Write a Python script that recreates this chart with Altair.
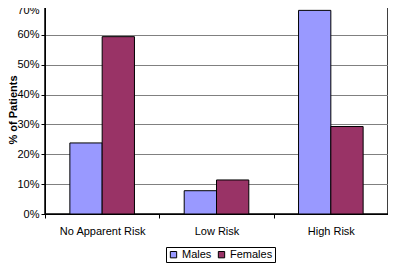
import altair as alt
import pandas as pd

categories = ["No Apparent Risk", "Low Risk", "High Risk"]
groups = ["Males", "Females"]
males = [0.238, 0.078, 0.682]
females = [0.594, 0.114, 0.293]

rows = []
for c, m, f in zip(categories, males, females):
    rows.append({"Risk": c, "Sex": "Males", "Pct": m})
    rows.append({"Risk": c, "Sex": "Females", "Pct": f})
df = pd.DataFrame(rows)

font = "Liberation Sans"

chart = alt.Chart(df).mark_bar(stroke="black", strokeWidth=1).encode(
    x=alt.X("Risk:N", sort=categories, title=None,
            scale=alt.Scale(paddingInner=0, paddingOuter=0),
            axis=alt.Axis(labelAngle=0, tickBand="extent", tickSize=4, domainColor="black",
                          tickColor="black", labelFont=font, labelFontSize=11, labelColor="black",
                          labelPadding=7)),
    xOffset=alt.XOffset("Sex:N", sort=groups, scale=alt.Scale(paddingInner=0, paddingOuter=0.77)),
    y=alt.Y("Pct:Q", title="% of Patients",
            scale=alt.Scale(domain=[0, 0.7], nice=False),
            axis=alt.Axis(format=".0%", values=[0, 0.1, 0.2, 0.3, 0.4, 0.5, 0.6, 0.7],
                          grid=True, gridColor="#808080", gridWidth=1,
                          tickSize=4, tickColor="black", domainColor="black",
                          labelFont=font, labelFontSize=11, labelColor="black", labelPadding=2,
                          labelOffset={"condition": {"test": "datum.value >= 0.69", "value": 5}, "value": 0},
                          titleFont=font, titleFontSize=11, titleFontWeight="bold",
                          titleColor="black", titleX=-29, titleBaseline="alphabetic")),
    color=alt.Color("Sex:N", sort=groups,
                    scale=alt.Scale(domain=groups, range=["#9999FF", "#993366"]),
                    legend=alt.Legend(title=None, orient="none", legendX=121, legendY=242,
                                      direction="horizontal", symbolType="square",
                                      symbolSize=40, symbolStrokeColor="black",
                                      symbolStrokeWidth=1, labelFont=font, labelFontSize=11,
                                      labelColor="black", strokeColor="black", padding=2,
                                      columnPadding=4, labelOffset=3)),
).properties(
    width=343, height=209,
    autosize=alt.AutoSizeParams(type="none"),
    padding={"left": 37, "top": -3, "right": 0, "bottom": 55},
).configure_view(stroke="black", strokeWidth=1.5)

chart.save("out.html", embed_options={"renderer": "svg", "actions": False})
